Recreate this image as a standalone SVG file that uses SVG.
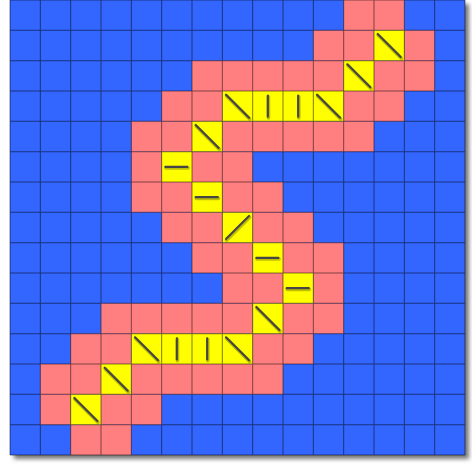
<svg xmlns="http://www.w3.org/2000/svg" width="472" height="465" viewBox="0 0 472 465">
  <defs>
    <filter id="shadow" x="-5%" y="-5%" width="110%" height="110%">
      <feGaussianBlur stdDeviation="2"/>
    </filter>
    <style>
      .blue { fill: #3366ff; }
      .pink { fill: #ff7f80; }
      .yellow { fill: #ffff00; }
      .grid { fill: none; stroke: #000; stroke-opacity: 0.5; stroke-width: 0.033; }
      .mark { stroke: #454545; stroke-width: 0.07; stroke-linecap: round; }
      .markshadow { stroke: #000; stroke-opacity: 0.25; stroke-width: 0.12; stroke-linecap: round; }
    </style>
  </defs>
  <rect width="472" height="465" fill="#fff"/>
  <rect x="14" y="4" width="455" height="455" fill="#777" filter="url(#shadow)"/>
  <g id="board" transform="translate(10,0) scale(30.3333)">
    <rect id="background" class="blue" x="0" y="0" width="15" height="15"/>
    <g id="pink-cells" class="pink">
      <rect x="11" y="0" width="2" height="1"/>
      <rect x="10" y="1" width="2" height="1"/><rect x="13" y="1" width="1" height="1"/>
      <rect x="6" y="2" width="5" height="1"/><rect x="12" y="2" width="2" height="1"/>
      <rect x="5" y="3" width="2" height="1"/><rect x="11" y="3" width="2" height="1"/>
      <rect x="4" y="4" width="2" height="1"/><rect x="7" y="4" width="5" height="1"/>
      <rect x="4" y="5" width="1" height="1"/><rect x="6" y="5" width="2" height="1"/>
      <rect x="4" y="6" width="2" height="1"/><rect x="7" y="6" width="2" height="1"/>
      <rect x="5" y="7" width="2" height="1"/><rect x="8" y="7" width="2" height="1"/>
      <rect x="6" y="8" width="2" height="1"/><rect x="9" y="8" width="2" height="1"/>
      <rect x="7" y="9" width="2" height="1"/><rect x="10" y="9" width="1" height="1"/>
      <rect x="3" y="10" width="5" height="1"/><rect x="9" y="10" width="2" height="1"/>
      <rect x="2" y="11" width="2" height="1"/><rect x="8" y="11" width="2" height="1"/>
      <rect x="1" y="12" width="2" height="1"/><rect x="4" y="12" width="5" height="1"/>
      <rect x="1" y="13" width="1" height="1"/><rect x="3" y="13" width="2" height="1"/>
      <rect x="2" y="14" width="2" height="1"/>
    </g>
    <g id="yellow-cells" class="yellow">
      <rect x="12" y="1" width="1" height="1"/>
      <rect x="11" y="2" width="1" height="1"/>
      <rect x="7" y="3" width="4" height="1"/>
      <rect x="6" y="4" width="1" height="1"/>
      <rect x="5" y="5" width="1" height="1"/>
      <rect x="6" y="6" width="1" height="1"/>
      <rect x="7" y="7" width="1" height="1"/>
      <rect x="8" y="8" width="1" height="1"/>
      <rect x="9" y="9" width="1" height="1"/>
      <rect x="8" y="10" width="1" height="1"/>
      <rect x="4" y="11" width="4" height="1"/>
      <rect x="3" y="12" width="1" height="1"/>
      <rect x="2" y="13" width="1" height="1"/>
    </g>
    <path id="grid" class="grid" d="M0 0H15M0 1H15M0 2H15M0 3H15M0 4H15M0 5H15M0 6H15M0 7H15M0 8H15M0 9H15M0 10H15M0 11H15M0 12H15M0 13H15M0 14H15M0 15H15M0 0V15M1 0V15M2 0V15M3 0V15M4 0V15M5 0V15M6 0V15M7 0V15M8 0V15M9 0V15M10 0V15M11 0V15M12 0V15M13 0V15M14 0V15M15 0V15"/>
    <g id="marks-shadow" class="markshadow" transform="translate(0.02,0.04)">
      <path d="M12.12 1.12L12.88 1.88M11.12 2.12L11.88 2.88M7.12 3.12L7.88 3.88M8.5 3.15V3.85M9.5 3.15V3.85M10.12 3.12L10.88 3.88M6.12 4.12L6.88 4.88M5.12 5.5H5.85M6.12 6.5H6.85M7.12 7.88L7.88 7.12M8.12 8.5H8.85M9.12 9.5H9.85M8.12 10.12L8.88 10.88M4.12 11.12L4.88 11.88M5.5 11.15V11.85M6.5 11.15V11.85M7.12 11.12L7.88 11.88M3.12 12.12L3.88 12.88M2.12 13.12L2.88 13.88"/>
    </g>
    <g id="marks" class="mark">
      <path d="M12.12 1.12L12.88 1.88M11.12 2.12L11.88 2.88M7.12 3.12L7.88 3.88M8.5 3.15V3.85M9.5 3.15V3.85M10.12 3.12L10.88 3.88M6.12 4.12L6.88 4.88M5.12 5.5H5.85M6.12 6.5H6.85M7.12 7.88L7.88 7.12M8.12 8.5H8.85M9.12 9.5H9.85M8.12 10.12L8.88 10.88M4.12 11.12L4.88 11.88M5.5 11.15V11.85M6.5 11.15V11.85M7.12 11.12L7.88 11.88M3.12 12.12L3.88 12.88M2.12 13.12L2.88 13.88"/>
    </g>
  </g>
</svg>
